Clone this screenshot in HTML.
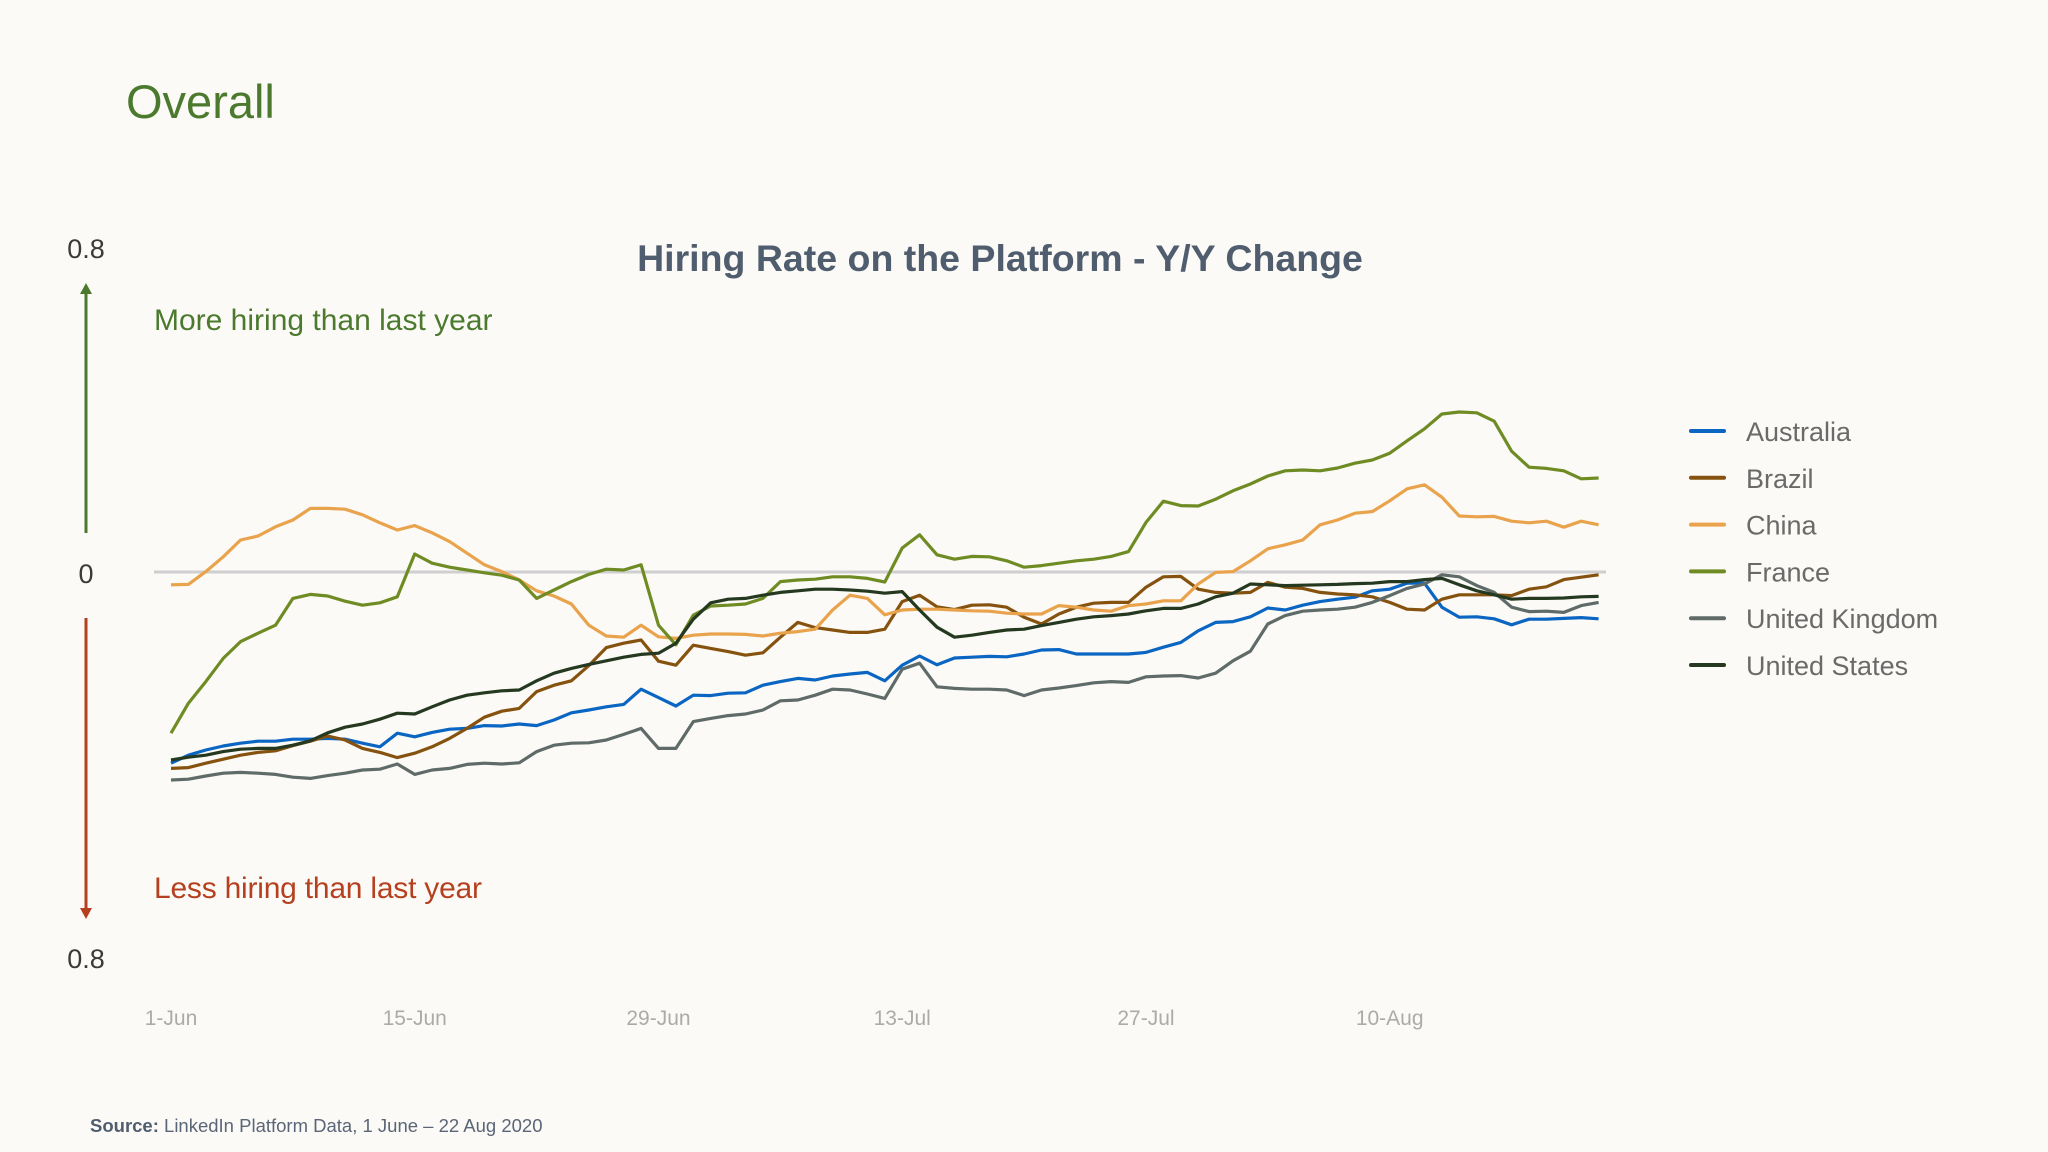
<!DOCTYPE html>
<html><head><meta charset="utf-8"><style>
html,body{margin:0;padding:0;background:#fcfaf6;}
svg{display:block;font-family:"Liberation Sans",sans-serif;}
</style></head><body>
<svg id="chart" width="2048" height="1152" viewBox="0 0 2048 1152" xmlns="http://www.w3.org/2000/svg">
<rect width="2048" height="1152" fill="#fcfaf6"/>
<text x="126" y="118" font-size="47" fill="#4b7a2e">Overall</text>
<text x="1000" y="271" font-size="37.5" fill="#4f5d6e" font-weight="bold" text-anchor="middle">Hiring Rate on the Platform - Y/Y Change</text>
<text x="86" y="258" font-size="27" fill="#3a3a3a" text-anchor="middle">0.8</text>
<text x="86" y="583" font-size="27" fill="#3a3a3a" text-anchor="middle">0</text>
<text x="86" y="968" font-size="27" fill="#3a3a3a" text-anchor="middle">0.8</text>
<g>
<line x1="86" y1="292" x2="86" y2="533" stroke="#4b7a2e" stroke-width="3"/>
<polygon points="80,294 92,294 86,283" fill="#4b7a2e"/>
</g>
<g>
<line x1="86" y1="618" x2="86" y2="910" stroke="#b5401f" stroke-width="3"/>
<polygon points="80,908 92,908 86,919" fill="#b5401f"/>
</g>
<text x="154" y="330" font-size="30" fill="#4b7a2e">More hiring than last year</text>
<text x="154" y="898" font-size="30" fill="#b5401f" textLength="328">Less hiring than last year</text>
<line x1="154" y1="572" x2="1606" y2="572" stroke="#cfcfcf" stroke-width="3"/>
<g id="xticks"></g>
<g id="series"></g>
<g id="legend"></g>
<text x="90" y="1132" font-size="18.5" fill="#5a6677"><tspan font-weight="bold" fill="#4f5d6e">Source:</tspan> LinkedIn Platform Data, 1 June – 22 Aug 2020</text>
</svg>
<script>
const xTickLabels = ["1-Jun","15-Jun","29-Jun","13-Jul","27-Jul","10-Aug"];
const xTickDays = [0,14,28,42,56,70];
const seriesNames = ["Australia","Brazil","China","France","United Kingdom","United States"];
const australia = [-47.8,-45.8,-44.5,-43.5,-42.8,-42.3,-42.3,-41.8,-41.8,-41.6,-41.8,-42.8,-43.7,-40.3,-41.2,-40.1,-39.3,-39.1,-38.4,-38.5,-38,-38.4,-37,-35.2,-34.5,-33.7,-33.1,-29.3,-31.4,-33.5,-30.8,-30.9,-30.3,-30.2,-28.3,-27.4,-26.6,-27,-26,-25.5,-25.1,-27.2,-23.3,-21,-23.2,-21.5,-21.3,-21.1,-21.2,-20.5,-19.5,-19.4,-20.5,-20.5,-20.5,-20.5,-20.1,-18.8,-17.6,-14.7,-12.6,-12.4,-11.2,-9,-9.5,-8.3,-7.4,-6.8,-6.3,-4.7,-4.3,-2.8,-2.8,-8.8,-11.3,-11.2,-11.7,-13.2,-11.8,-11.8,-11.6,-11.4,-11.7];
const brazil = [-49.1,-48.9,-47.8,-46.8,-45.8,-45.1,-44.7,-43.4,-42.3,-41,-42,-44.1,-45.1,-46.4,-45.3,-43.7,-41.6,-39.1,-36.3,-34.8,-34.1,-29.9,-28.3,-27.2,-23.4,-18.9,-17.8,-17,-22.3,-23.3,-18.3,-19.1,-19.9,-20.8,-20.2,-16.3,-12.6,-13.9,-14.5,-15.1,-15.1,-14.3,-7.4,-5.8,-8.7,-9.4,-8.3,-8.2,-8.8,-11.3,-13,-10.5,-8.8,-7.8,-7.6,-7.6,-3.8,-1.2,-1.1,-4.3,-5.1,-5.3,-5.1,-2.6,-3.8,-4.1,-5.1,-5.5,-5.7,-6.2,-7.6,-9.3,-9.5,-6.8,-5.7,-5.7,-5.7,-5.9,-4.3,-3.7,-1.9,-1.3,-0.7];
const china = [-3.2,-3.1,0.1,3.8,8,9,11.3,13,15.9,15.9,15.7,14.3,12.3,10.5,11.6,9.8,7.6,4.7,1.8,0.1,-2,-4.7,-6,-8,-13.3,-16,-16.3,-13.3,-16.2,-16.6,-15.8,-15.5,-15.5,-15.6,-16,-15.3,-14.9,-14.3,-9.5,-5.8,-6.6,-10.7,-9.5,-9.3,-9.3,-9.5,-9.7,-9.8,-10.3,-10.5,-10.5,-8.4,-8.8,-9.5,-9.8,-8.4,-8,-7.2,-7.2,-3,-0.1,0.1,2.8,5.8,6.8,8,11.8,13,14.7,15.1,17.8,20.8,21.8,18.7,14,13.8,13.9,12.7,12.3,12.7,11.2,12.7,11.8];
const france = [-40.3,-32.8,-27.4,-21.6,-17.4,-15.3,-13.3,-6.6,-5.6,-6,-7.3,-8.3,-7.7,-6.2,4.5,2.2,1.2,0.5,-0.2,-0.8,-2,-6.6,-4.5,-2.4,-0.6,0.7,0.5,1.8,-13.3,-18.2,-10.8,-8.5,-8.3,-8,-6.6,-2.4,-2,-1.8,-1.2,-1.2,-1.6,-2.5,6,9.3,4.3,3.2,3.9,3.8,2.8,1.2,1.6,2.2,2.8,3.2,3.9,5.1,12.4,17.7,16.6,16.5,18.2,20.3,22,24,25.3,25.5,25.3,26,27.2,28,29.7,32.8,35.8,39.5,40,39.8,37.7,30.2,26.2,25.9,25.3,23.3,23.5];
const unitedKingdom = [-52,-51.8,-51,-50.3,-50.1,-50.3,-50.6,-51.3,-51.6,-50.9,-50.3,-49.5,-49.3,-48,-50.6,-49.5,-49.1,-48.1,-47.8,-48,-47.7,-44.9,-43.3,-42.8,-42.7,-42,-40.6,-39.1,-44.1,-44.1,-37.4,-36.6,-35.9,-35.5,-34.5,-32.2,-32,-30.8,-29.3,-29.5,-30.5,-31.6,-24.3,-22.8,-28.7,-29.1,-29.3,-29.3,-29.5,-30.9,-29.5,-29,-28.4,-27.7,-27.4,-27.6,-26.2,-26,-25.9,-26.5,-25.3,-22.2,-19.8,-13,-10.9,-9.8,-9.5,-9.3,-8.8,-7.6,-5.9,-4.1,-3,-0.7,-1.2,-3.4,-5.1,-8.8,-9.9,-9.8,-10.1,-8.4,-7.6];
const unitedStates = [-47,-46.3,-45.8,-44.9,-44.3,-44.1,-44.1,-43.3,-42.2,-40.2,-38.8,-38,-36.8,-35.3,-35.5,-33.7,-32,-30.8,-30.2,-29.7,-29.5,-27.2,-25.3,-24.1,-23.1,-22.2,-21.3,-20.6,-20.3,-17.8,-11.8,-7.7,-6.8,-6.6,-5.8,-5.1,-4.7,-4.3,-4.3,-4.5,-4.8,-5.3,-4.9,-9.5,-13.8,-16.3,-15.8,-15.1,-14.5,-14.3,-13.4,-12.6,-11.8,-11.2,-10.9,-10.5,-9.7,-9.1,-9.1,-8,-6.2,-5.3,-3,-3.2,-3.4,-3.3,-3.2,-3.1,-2.9,-2.8,-2.4,-2.4,-1.9,-1.6,-3.2,-4.7,-5.7,-6.8,-6.6,-6.6,-6.5,-6.2,-6.1];

const allSeries = [australia, brazil, china, france, unitedKingdom, unitedStates];
const colors = ["#0a66c2","#86520f","#e9a34c","#6f8c24","#5f6b68","#24391f"];
const NS = "http://www.w3.org/2000/svg";
function xScale(d){ return 171 + d * 17.41; }
function yScale(v){ return 572 - v * 4; }

const xt = document.getElementById('xticks');
xTickLabels.forEach(function(lab, i){
  const t = document.createElementNS(NS, 'text');
  t.setAttribute('x', xScale(xTickDays[i]));
  t.setAttribute('y', 1025);
  t.setAttribute('font-size', '21');
  t.setAttribute('fill', '#ababab');
  t.setAttribute('text-anchor', 'middle');
  t.textContent = lab;
  
  
  xt.appendChild(t);
});

const sg = document.getElementById('series');
allSeries.forEach(function(vals, si){
  let d = '';
  vals.forEach(function(v, i){ d += (i ? 'L' : 'M') + xScale(i).toFixed(1) + ',' + yScale(v).toFixed(1); });
  const p = document.createElementNS(NS, 'path');
  p.setAttribute('d', d);
  p.setAttribute('fill', 'none');
  p.setAttribute('stroke', colors[si]);
  p.setAttribute('stroke-width', '3.2');
  p.setAttribute('stroke-linejoin', 'round');
  
  
  sg.appendChild(p);
});

const lg = document.getElementById('legend');
seriesNames.forEach(function(name, i){
  const y = 431 + i * 46.8;
  const g = document.createElementNS(NS, 'g');
  
  
  const l = document.createElementNS(NS, 'line');
  l.setAttribute('x1', 1691); l.setAttribute('x2', 1724);
  l.setAttribute('y1', y); l.setAttribute('y2', y);
  l.setAttribute('stroke', colors[i]); l.setAttribute('stroke-width', '4');
  l.setAttribute('stroke-linecap', 'round');
  g.appendChild(l);
  const t = document.createElementNS(NS, 'text');
  t.setAttribute('x', 1746); t.setAttribute('y', y + 10);
  t.setAttribute('font-size', '27'); t.setAttribute('fill', '#6a6a6a');
  t.textContent = name;
  g.appendChild(t);
  lg.appendChild(g);
});
</script>
</body></html>
